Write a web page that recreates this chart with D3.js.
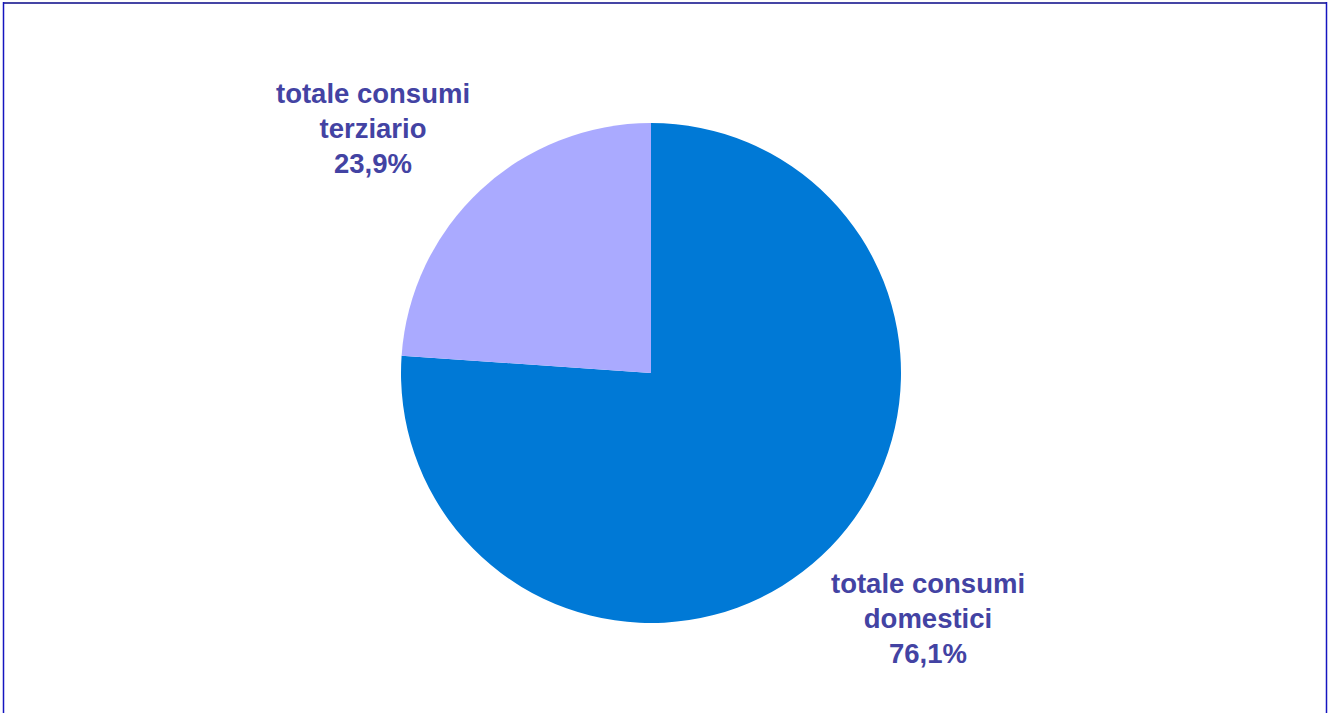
<!DOCTYPE html>
<html>
<head>
<meta charset="utf-8">
<script src="https://cdn.jsdelivr.net/npm/d3@7"></script>
<style>
  html, body { margin: 0; padding: 0; background: #ffffff; }
  svg { display: block; }
</style>
</head>
<body>
<svg id="chart" width="1332" height="713"></svg>
<script>
// Share of consumption by sector
const categories = ["totale consumi domestici", "totale consumi terziario"];
const labelLines = [["totale consumi", "domestici"], ["totale consumi", "terziario"]];
const shares = [76.1, 23.9];
const colors = ["#0079D6", "#AAAAFF"];

const width = 1332, height = 713;
const svg = d3.select("#chart");

// frame
svg.append("line").attr("x1", 3).attr("x2", 1327).attr("y1", 3).attr("y2", 3)
  .attr("stroke", "#4545A5").attr("stroke-width", 2);
svg.append("line").attr("x1", 3.5).attr("x2", 3.5).attr("y1", 2).attr("y2", height)
  .attr("stroke", "#1515C0").attr("stroke-width", 1.5);
svg.append("line").attr("x1", 1326.5).attr("x2", 1326.5).attr("y1", 2).attr("y2", height)
  .attr("stroke", "#1515C0").attr("stroke-width", 1.5);

const cx = 651, cy = 373, r = 250;
const data = categories.map((c, i) => ({ name: c, value: shares[i], lines: labelLines[i], color: colors[i] }));

const pie = d3.pie().value(d => d.value).sort(null);
const arc = d3.arc().innerRadius(0).outerRadius(r);
const arcs = pie(data);

const g = svg.append("g").attr("transform", `translate(${cx},${cy})`);
g.selectAll("path").data(arcs).enter().append("path")
  .attr("d", arc)
  .attr("fill", d => d.data.color);

// data labels, positioned outside the pie next to each slice
const fmt = v => v.toFixed(1).replace(".", ",") + "%";
const labelPos = [[928, 593], [373, 103]];
const lh = 35;

arcs.forEach((a, i) => {
  const lines = a.data.lines.concat([fmt(a.data.value)]);
  const t = g.append("text")
    .attr("text-anchor", "middle")
    .attr("font-family", "'Liberation Sans', Arial, Helvetica, sans-serif")
    .attr("font-weight", "bold")
    .attr("font-size", 27.5)
    .attr("fill", "#4343A3");
  const x0 = labelPos[i][0] - cx;
  const y0 = labelPos[i][1] - cy;
  lines.forEach((ln, k) => {
    t.append("tspan").attr("x", x0).attr("y", y0 + k * lh).text(ln);
  });
});
</script>
</body>
</html>
